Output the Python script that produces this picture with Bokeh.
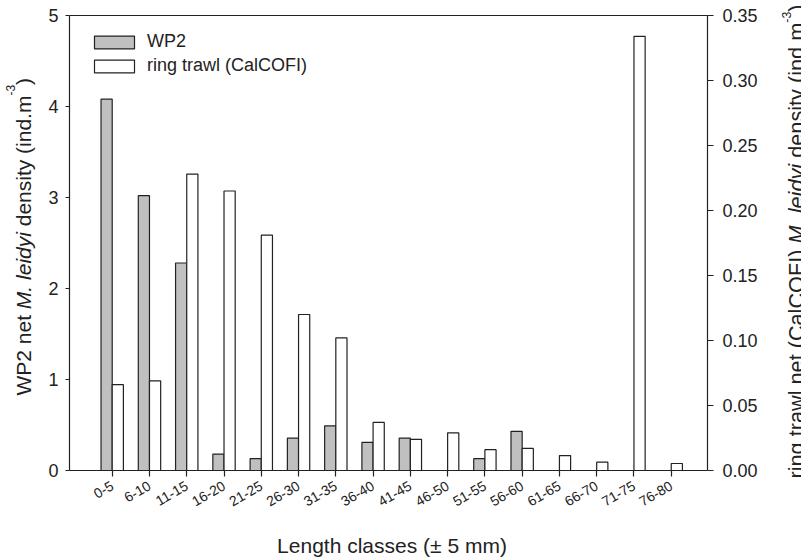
import math

from bokeh.embed import file_html
from bokeh.models import (ColumnDataSource, FixedTicker, Label, Legend, LegendItem,
                          LinearAxis, NumeralTickFormatter, Range1d)
from bokeh.plotting import figure
from bokeh.resources import INLINE
from bokeh.transform import dodge

# ---- data -------------------------------------------------------------
length_classes = ["0-5", "6-10", "11-15", "16-20", "21-25", "26-30", "31-35", "36-40",
                  "41-45", "46-50", "51-55", "56-60", "61-65", "66-70", "71-75", "76-80"]
wp2_density = [4.08, 3.02, 2.28, 0.18, 0.13, 0.355, 0.49, 0.31,
               0.355, 0.0, 0.13, 0.43, 0.0, 0.0, 0.0, 0.0]
ring_density = [0.066, 0.069, 0.228, 0.215, 0.181, 0.120, 0.102, 0.037,
                0.024, 0.029, 0.016, 0.017, 0.0115, 0.0064, 0.334, 0.0054]
wp2_ticks = [0, 1, 2, 3, 4, 5]
ring_ticks = [0.00, 0.05, 0.10, 0.15, 0.20, 0.25, 0.30, 0.35]

FONT = "Liberation Sans"
INK = "#222222"

# ---- page geometry ----------------------------------------------------
W, H = 801, 559
BOX_L, BOX_R, BOX_T, BOX_B = 69, 707, 15, 470      # plotting box in page px
X0, X1 = -1.146, 15.973                            # category axis extent
Y0, Y1 = 0.0, 5.0                                  # WP2 axis extent
R0, R1 = 0.0, 0.35                                 # ring trawl axis extent


def page_range(lo, hi, p_lo, p_hi, p_total, flip=False):
    """Extend a data interval that spans page px [p_lo, p_hi] to the whole page."""
    per_px = (hi - lo) / (p_hi - p_lo)
    if flip:  # page y grows downwards
        return Range1d(lo - (p_total - p_hi) * per_px, hi + p_lo * per_px)
    return Range1d(lo - p_lo * per_px, hi + (p_total - p_hi) * per_px)


src = ColumnDataSource(dict(
    x=list(range(len(length_classes))),
    wp2=wp2_density,
    ring=ring_density,
))

# the frame fills the page; axes are pinned at fixed data locations
p = figure(width=W, height=H, output_backend="svg", toolbar_location=None,
           x_range=page_range(X0, X1, BOX_L, BOX_R, W),
           y_range=page_range(Y0, Y1, BOX_T, BOX_B, H, flip=True),
           x_axis_type=None, y_axis_type=None,
           min_border_left=0, min_border_right=0, min_border_top=0,
           min_border_bottom=0)
p.title.visible = False
p.outline_line_color = None
p.background_fill_color = "white"
p.border_fill_color = "white"
p.extra_y_ranges = {"ring": page_range(R0, R1, BOX_T, BOX_B, H, flip=True)}

# ---- bars ---------------------------------------------------------------
r_wp2 = p.vbar(x=dodge("x", -0.15), top="wp2", width=0.3, source=src,
               fill_color="#c0c0c0", line_color=INK, line_width=1.2)
r_ring = p.vbar(x=dodge("x", 0.15), top="ring", width=0.3, source=src,
                y_range_name="ring", fill_color="white", line_color=INK,
                line_width=1.2)


# ---- axes ---------------------------------------------------------------
def style_axis(ax, size, standoff, tick_out):
    ax.major_label_text_font = FONT
    ax.major_label_text_font_size = size
    ax.major_label_text_color = INK
    ax.major_label_standoff = standoff
    ax.major_tick_out = tick_out
    ax.major_tick_in = 0
    ax.minor_tick_line_color = None
    ax.axis_line_color = INK
    ax.axis_line_width = 1.2
    ax.major_tick_line_color = INK
    ax.major_tick_line_width = 1.2


xa = LinearAxis(ticker=FixedTicker(ticks=list(range(len(length_classes)))),
                major_label_overrides={i: c for i, c in enumerate(length_classes)},
                major_label_orientation=math.pi / 6, fixed_location=Y0,
                bounds=(X0, X1))
style_axis(xa, "14px", 8, 6)
p.add_layout(xa, "below")

ya = LinearAxis(ticker=FixedTicker(ticks=wp2_ticks), fixed_location=X0,
                bounds=(Y0, Y1))
style_axis(ya, "18px", 7, 4)
p.add_layout(ya, "left")

ra = LinearAxis(y_range_name="ring", ticker=FixedTicker(ticks=ring_ticks),
                formatter=NumeralTickFormatter(format="0.00"), fixed_location=X1,
                bounds=(R0, R1))
style_axis(ra, "18px", 9, 6)
p.add_layout(ra, "right")

# closing line along the top of the plotting box
ta = LinearAxis(ticker=FixedTicker(ticks=[]), fixed_location=Y1, bounds=(X0, X1))
style_axis(ta, "18px", 0, 0)
p.add_layout(ta, "above")

# ---- legend -------------------------------------------------------------
legend = Legend(items=[LegendItem(label="WP2", renderers=[r_wp2]),
                       LegendItem(label="ring trawl (CalCOFI)", renderers=[r_ring])],
                location=(89, 483), margin=0, padding=10, spacing=3,
                glyph_width=50, glyph_height=16, label_height=20,
                label_standoff=8, border_line_color=None,
                background_fill_alpha=0)
legend.label_text_font = FONT
legend.label_text_font_size = "18px"
legend.label_text_color = INK
p.add_layout(legend)

# ---- axis titles (mixed italic / superscript runs) ------------------------
# Arial-compatible advance widths (per 1000 em) used to lay out the runs
ADV = {" ": 278, "(": 333, ")": 333, "-": 333, ".": 278, "2": 556, "3": 556,
       "C": 722, "F": 611, "I": 278, "M": 833, "O": 778, "P": 667, "W": 944,
       "a": 556, "d": 556, "e": 556, "g": 556, "i": 222, "l": 222, "m": 833,
       "n": 556, "r": 333, "s": 500, "t": 278, "w": 722, "y": 500}


def run_width(text, size):
    return sum(ADV.get(ch, 556) for ch in text) * size / 1000.0


BASELINE_FIX = 7   # renderer draws "alphabetic" labels this many px low


def vertical_title(runs, baseline_x, start_y, size, sup_size, sup_raise):
    """Place text runs bottom-to-top, rotated 90 degrees (page px, y down)."""
    y = H - start_y
    for text, style, kind in runs:
        fs = sup_size if kind == "sup" else size
        bx = baseline_x - BASELINE_FIX - (sup_raise if kind == "sup" else 0)
        p.add_layout(Label(x=bx, y=y, x_units="screen", y_units="screen",
                           text=text, angle=math.pi / 2, text_align="left",
                           text_baseline="alphabetic", text_font=FONT,
                           text_font_size=f"{fs}px", text_font_style=style,
                           text_color=INK))
        y += run_width(text, fs)


vertical_title([("WP2 net ", "normal", "main"), ("M. leidyi ", "italic", "main"),
                ("density (ind.m", "normal", "main"), ("-3", "normal", "sup"),
                (")", "normal", "main")],
               baseline_x=30, start_y=395, size=21, sup_size=12, sup_raise=13)

vertical_title([("ring trawl net (CalCOFI) ", "normal", "main"),
                ("M. leidyi ", "italic", "main"),
                ("density (ind.m", "normal", "main"), ("-3", "normal", "sup"),
                (")", "normal", "main")],
               baseline_x=802.5, start_y=478, size=21.7, sup_size=12.4, sup_raise=10)

p.add_layout(Label(x=391.5, y=H - 551.7 + BASELINE_FIX, x_units="screen",
                   y_units="screen", text="Length classes (± 5 mm)",
                   text_align="center", text_baseline="alphabetic", text_font=FONT,
                   text_font_size="21px", text_color=INK))

open("out.html", "w").write(file_html(p, INLINE))
